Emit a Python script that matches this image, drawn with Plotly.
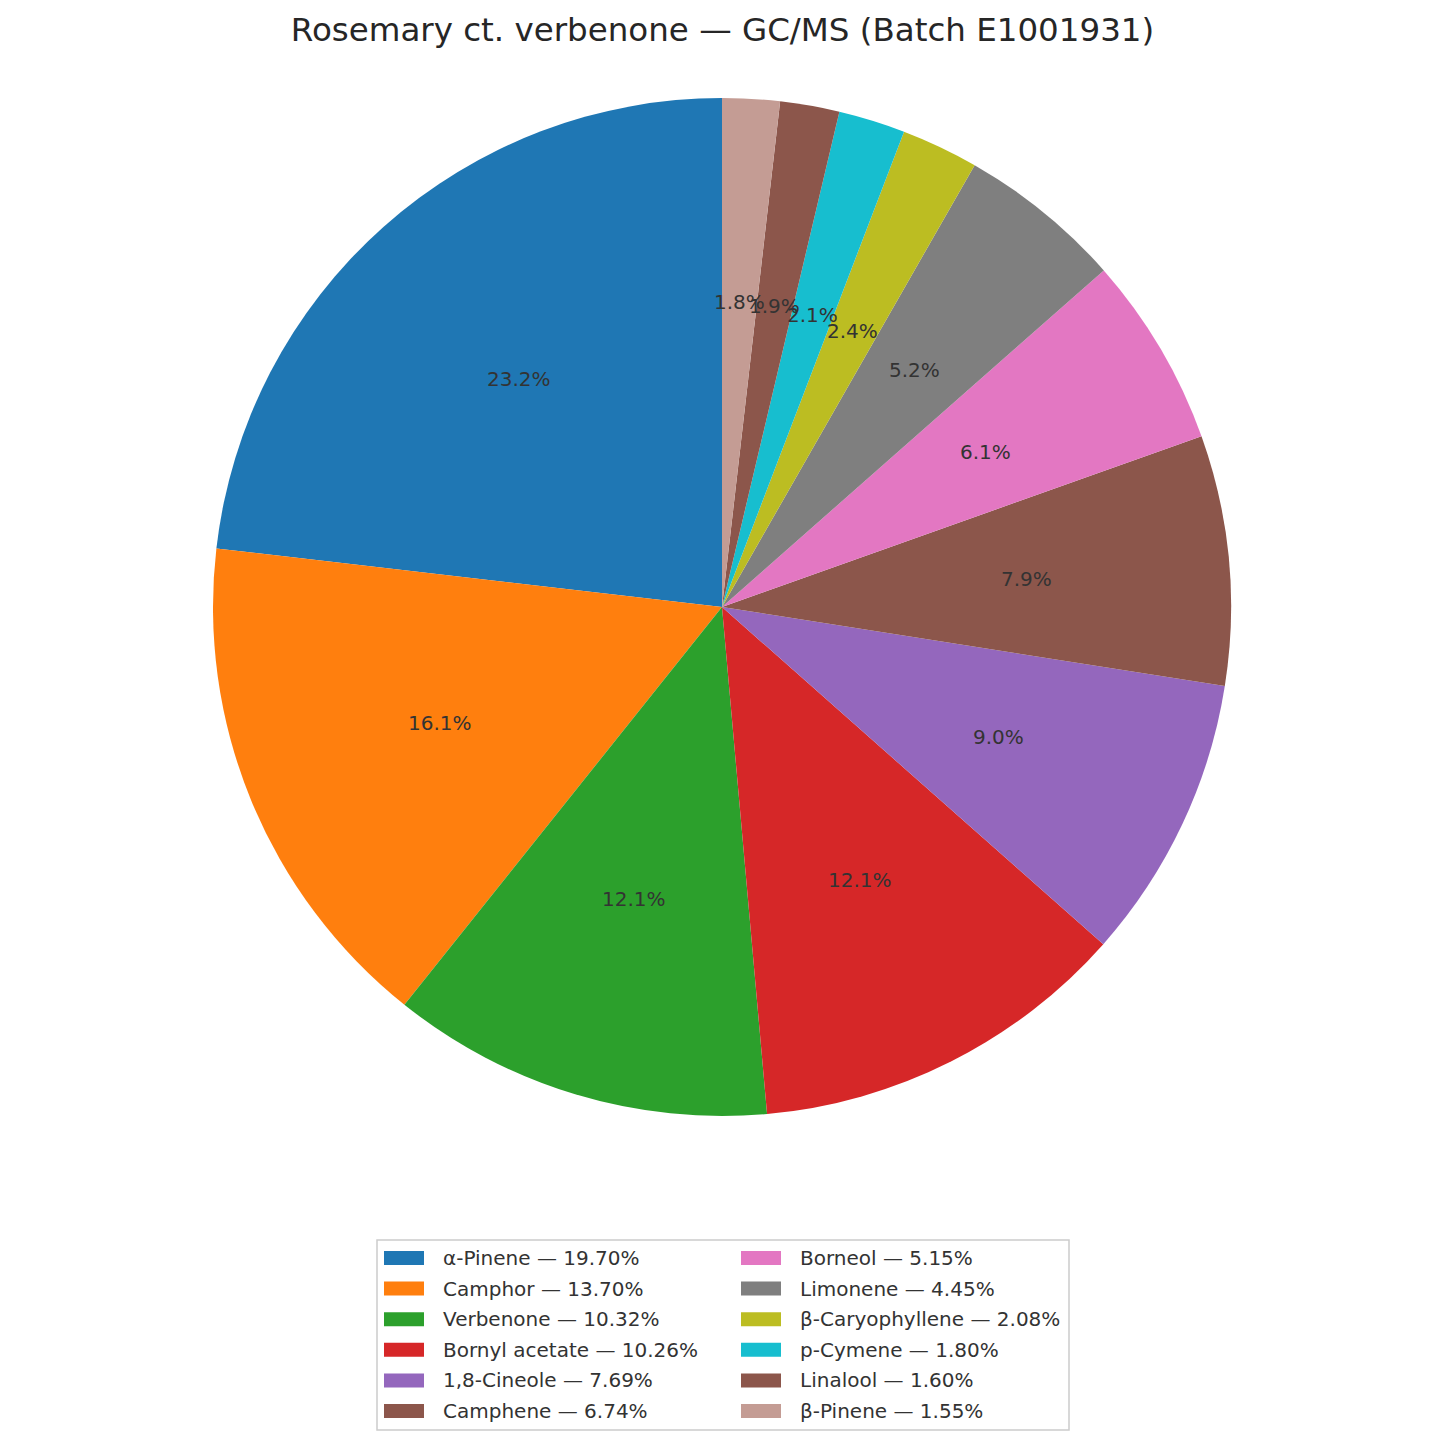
import math
import plotly.graph_objects as go

# ---- data ----
compounds = ["α-Pinene", "Camphor", "Verbenone", "Bornyl acetate", "1,8-Cineole",
             "Camphene", "Borneol", "Limonene", "β-Caryophyllene", "p-Cymene",
             "Linalool", "β-Pinene"]
areas = [19.70, 13.70, 10.32, 10.26, 7.69, 6.74, 5.15, 4.45, 2.08, 1.80, 1.60, 1.55]
colors = ["#1f77b4", "#ff7f0e", "#2ca02c", "#d62728", "#9467bd", "#8c564b",
          "#e377c2", "#7f7f7f", "#bcbd22", "#17becf", "#8c564b", "#c49c94"]
title_text = "Rosemary ct. verbenone — GC/MS (Batch E1001931)"

W = H = 1445
OFF = 8  # page body margin
FONT = "DejaVu Sans"
TXT = "#333333"

# pie geometry (pixels in screenshot)
cx, cy, R = 722, 607, 509

def px_x(x):
    return (x - OFF) / W

def px_y(y):
    return 1 - (y - OFF) / H

total = sum(areas)

fig = go.Figure()
fig.add_trace(go.Pie(
    labels=compounds, values=areas, sort=False, direction="counterclockwise",
    rotation=-360 * areas[0] / total,
    marker=dict(colors=colors, line=dict(width=0)),
    textinfo="none", showlegend=False,
    domain=dict(x=[px_x(cx - R), px_x(cx + R)], y=[px_y(cy + R), px_y(cy - R)]),
    hovertemplate="%{label}: %{value:.2f}%<extra></extra>",
))

annotations = []
shapes = []
cum = 0.0
for v in areas:
    frac = v / total
    theta = math.radians(90 + 360 * (cum + frac / 2))
    cum += frac
    x = cx + 0.6 * R * math.cos(theta)
    y = cy - 0.6 * R * math.sin(theta)
    annotations.append(dict(
        x=px_x(x), y=px_y(y), xref="paper", yref="paper", showarrow=False,
        text=f"{frac * 100:.1f}%", xanchor="center", yanchor="middle",
        font=dict(family=FONT, size=20, color=TXT)))

# legend (two columns, column-major)
leg_left, leg_right, leg_top, leg_bot = 377, 1069, 1240, 1430
shapes.append(dict(type="rect", xref="paper", yref="paper",
                   x0=px_x(leg_left), x1=px_x(leg_right),
                   y0=px_y(leg_bot), y1=px_y(leg_top),
                   line=dict(color="#cccccc", width=1.5), fillcolor="rgba(255,255,255,0.8)",
                   layer="above"))
ncol_rows = 6
col_x = [384, 741]
row0, row_step = 1258, 30.6
for i, (name, val, col) in enumerate(zip(compounds, areas, colors)):
    c, r = divmod(i, ncol_rows)
    xs = col_x[c]
    yc = row0 + r * row_step
    shapes.append(dict(type="rect", xref="paper", yref="paper",
                       x0=px_x(xs), x1=px_x(xs + 40),
                       y0=px_y(yc + 7), y1=px_y(yc - 7),
                       line=dict(width=0), fillcolor=col, layer="above"))
    annotations.append(dict(
        x=px_x(xs + 57), y=px_y(yc), xref="paper", yref="paper", showarrow=False,
        text=f"{name} — {val:.2f}%", xanchor="left", yanchor="middle",
        font=dict(family=FONT, size=20, color=TXT)))

fig.update_layout(
    width=W, height=H,
    margin=dict(l=0, r=0, t=0, b=0),
    paper_bgcolor="white", plot_bgcolor="white",
    title=dict(text=title_text, x=px_x(722.5), xanchor="center", y=px_y(30), yanchor="middle",
               font=dict(family=FONT, size=32.5, color="#262626")),
    annotations=annotations, shapes=shapes,
    showlegend=False,
)

fig.write_html("out.html")
